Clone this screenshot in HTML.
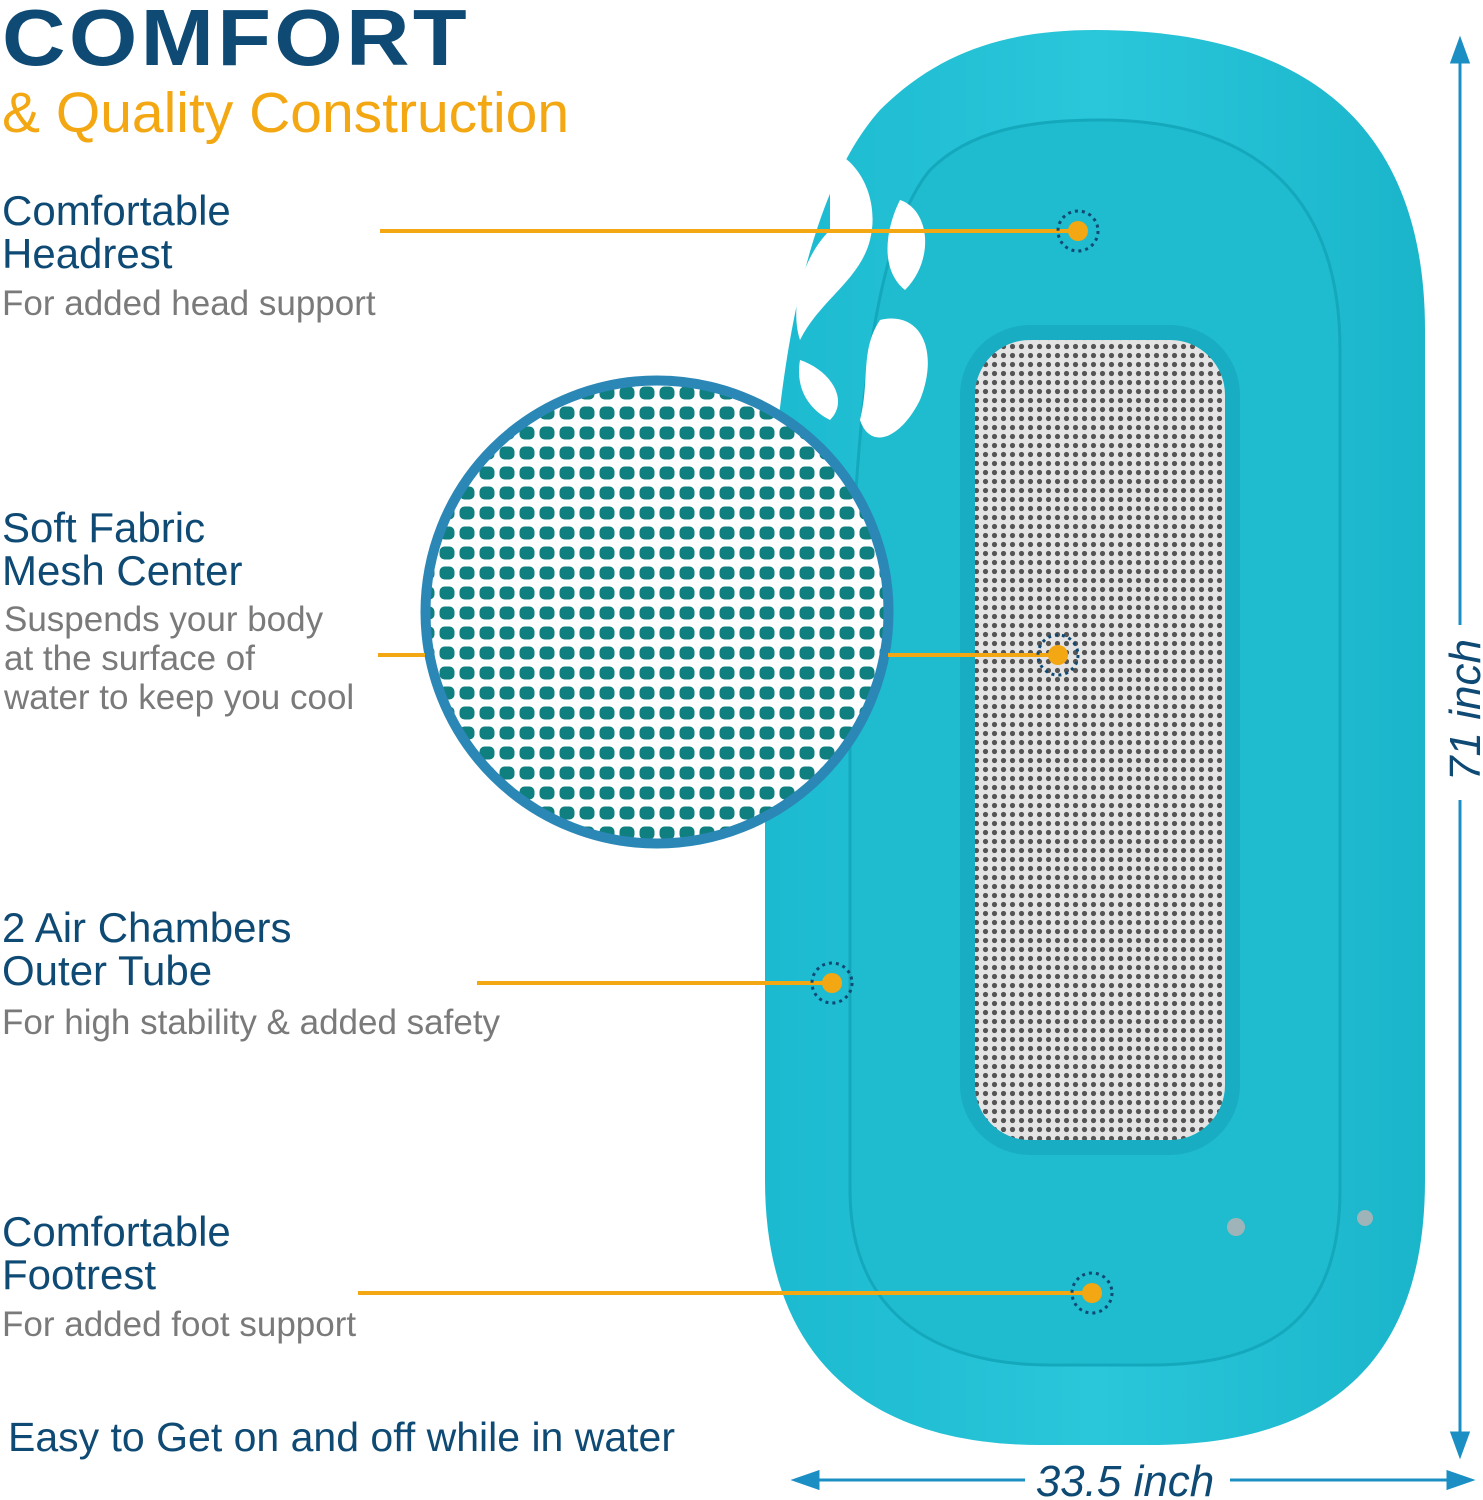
<!DOCTYPE html>
<html><head><meta charset="utf-8"><style>
html,body{margin:0;padding:0;background:#fff;}
body{width:1483px;height:1500px;position:relative;overflow:hidden;font-family:"Liberation Sans",sans-serif;}
.t{position:absolute;white-space:nowrap;}
.h{color:#0e4a74;font-size:42px;line-height:43px;}
.d{color:#7a7a7a;font-size:35px;line-height:39px;}
</style></head><body>
<svg width="1483" height="1500" style="position:absolute;left:0;top:0">
<defs>
<pattern id="mesh" width="9" height="9" patternUnits="userSpaceOnUse">
<rect width="9" height="9" fill="#e4e4e4"/><circle cx="4.5" cy="4.5" r="2.6" fill="#555"/></pattern>
<pattern id="big" width="20" height="20" patternUnits="userSpaceOnUse" x="437" y="383">
<rect width="20" height="20" fill="#fff"/><rect x="2.5" y="3.5" width="15" height="13" rx="5" fill="#0f7f80"/></pattern>
<clipPath id="cc"><circle cx="657" cy="612" r="230"/></clipPath>
<linearGradient id="fl" x1="0" x2="1"><stop offset="0" stop-color="#1cbad0"/><stop offset="0.5" stop-color="#2ac6da"/><stop offset="1" stop-color="#1ab5ca"/></linearGradient>
</defs>
<path d="M1095 30 C1300 30 1425 120 1425 330 L1425 1180 C1425 1360 1330 1445 1150 1445 L1040 1445 C870 1445 765 1360 765 1180 L765 700 C765 400 800 200 880 110 C940 50 1010 30 1095 30Z" fill="url(#fl)"/>
<path d="M1100 120 C1260 120 1340 200 1340 350 L1340 1190 C1340 1320 1270 1365 1150 1365 L1050 1365 C930 1365 850 1310 850 1190 L850 700 C850 400 880 230 930 170 C970 130 1030 120 1100 120Z" fill="#1fbbcf" stroke="#14a8bc" stroke-width="3"/>
<rect x="960" y="325" width="280" height="830" rx="70" fill="#18adc2"/>
<rect x="975" y="340" width="250" height="800" rx="55" fill="url(#mesh)"/>
<g fill="#fff">
<path d="M830 150 C860 160 880 200 870 240 C860 280 820 300 800 340 C790 310 800 260 830 230Z"/>
<path d="M880 320 C920 310 940 350 920 400 C900 440 870 450 860 420 C870 380 860 350 880 320Z"/>
<path d="M900 200 C930 210 935 260 905 290 C880 270 885 230 900 200Z"/>
<path d="M800 360 C830 370 850 400 830 420 C810 410 795 390 800 360Z"/>
</g>
<circle cx="657" cy="612" r="233" fill="#fff" stroke="#2b87b6" stroke-width="7"/>
<rect x="420" y="375" width="480" height="480" fill="url(#big)" clip-path="url(#cc)"/>
<circle cx="657" cy="612" r="230" fill="none" stroke="#2b87b6" stroke-width="7"/>
<g stroke="#f3a712" stroke-width="4">
<line x1="380" y1="231" x2="1078" y2="231"/>
<line x1="378" y1="655" x2="425" y2="655"/>
<line x1="888" y1="655" x2="1058" y2="655"/>
<line x1="477" y1="983" x2="832" y2="983"/>
<line x1="358" y1="1293" x2="1092" y2="1293"/>
</g>
<g>
<circle cx="1078" cy="231" r="10" fill="#f3a712"/><circle cx="1078" cy="231" r="20" fill="none" stroke="#0e4a74" stroke-width="3" stroke-dasharray="3 4"/>
<circle cx="1058" cy="655" r="10" fill="#f3a712"/><circle cx="1058" cy="655" r="20" fill="none" stroke="#0e4a74" stroke-width="3" stroke-dasharray="3 4"/>
<circle cx="832" cy="983" r="10" fill="#f3a712"/><circle cx="832" cy="983" r="20" fill="none" stroke="#0e4a74" stroke-width="3" stroke-dasharray="3 4"/>
<circle cx="1092" cy="1293" r="10" fill="#f3a712"/><circle cx="1092" cy="1293" r="20" fill="none" stroke="#0e4a74" stroke-width="3" stroke-dasharray="3 4"/>
</g>
<circle cx="1236" cy="1227" r="9" fill="#9fb4b8"/><circle cx="1365" cy="1218" r="8" fill="#9fb4b8"/>
<g stroke="#1b8fc4" stroke-width="3" fill="#1b8fc4">
<line x1="1460" y1="45" x2="1460" y2="625"/><line x1="1460" y1="800" x2="1460" y2="1450"/>
<path d="M1452 62 L1460 40 L1468 62Z"/><path d="M1452 1433 L1460 1455 L1468 1433Z"/>
<line x1="800" y1="1480" x2="1025" y2="1480"/><line x1="1230" y1="1480" x2="1465" y2="1480"/>
<path d="M818 1472 L795 1480 L818 1488Z"/><path d="M1448 1472 L1471 1480 L1448 1488Z"/>
</g>
<text x="1125" y="1496" font-family="Liberation Sans" font-style="italic" font-size="44" fill="#0e4a74" text-anchor="middle">33.5 inch</text>
<text transform="translate(1480,710) rotate(-90)" font-family="Liberation Sans" font-style="italic" font-size="44" fill="#0e4a74" text-anchor="middle">71 inch</text>
</svg>
<div class="t" style="left:2px;top:-8px;font-size:80px;font-weight:900;color:#0e4a74;letter-spacing:3px;transform:scaleX(1.1);transform-origin:0 0;">COMFORT</div>
<div class="t" style="left:2px;top:80px;font-size:57px;color:#f3a712;">&amp; Quality Construction</div>
<div class="t h" style="left:2px;top:189px">Comfortable<br>Headrest</div>
<div class="t d" style="left:2px;top:284px">For added head support</div>
<div class="t h" style="left:2px;top:506px">Soft Fabric<br>Mesh Center</div>
<div class="t d" style="left:4px;top:600px">Suspends your body<br>at the surface of<br>water to keep you cool</div>
<div class="t h" style="left:2px;top:906px">2 Air Chambers<br>Outer Tube</div>
<div class="t d" style="left:2px;top:1003px">For high stability &amp; added safety</div>
<div class="t h" style="left:2px;top:1210px">Comfortable<br>Footrest</div>
<div class="t d" style="left:2px;top:1305px">For added foot support</div>
<div class="t h" style="left:8px;top:1416px;font-size:41px">Easy to Get on and off while in water</div>
</body></html>
